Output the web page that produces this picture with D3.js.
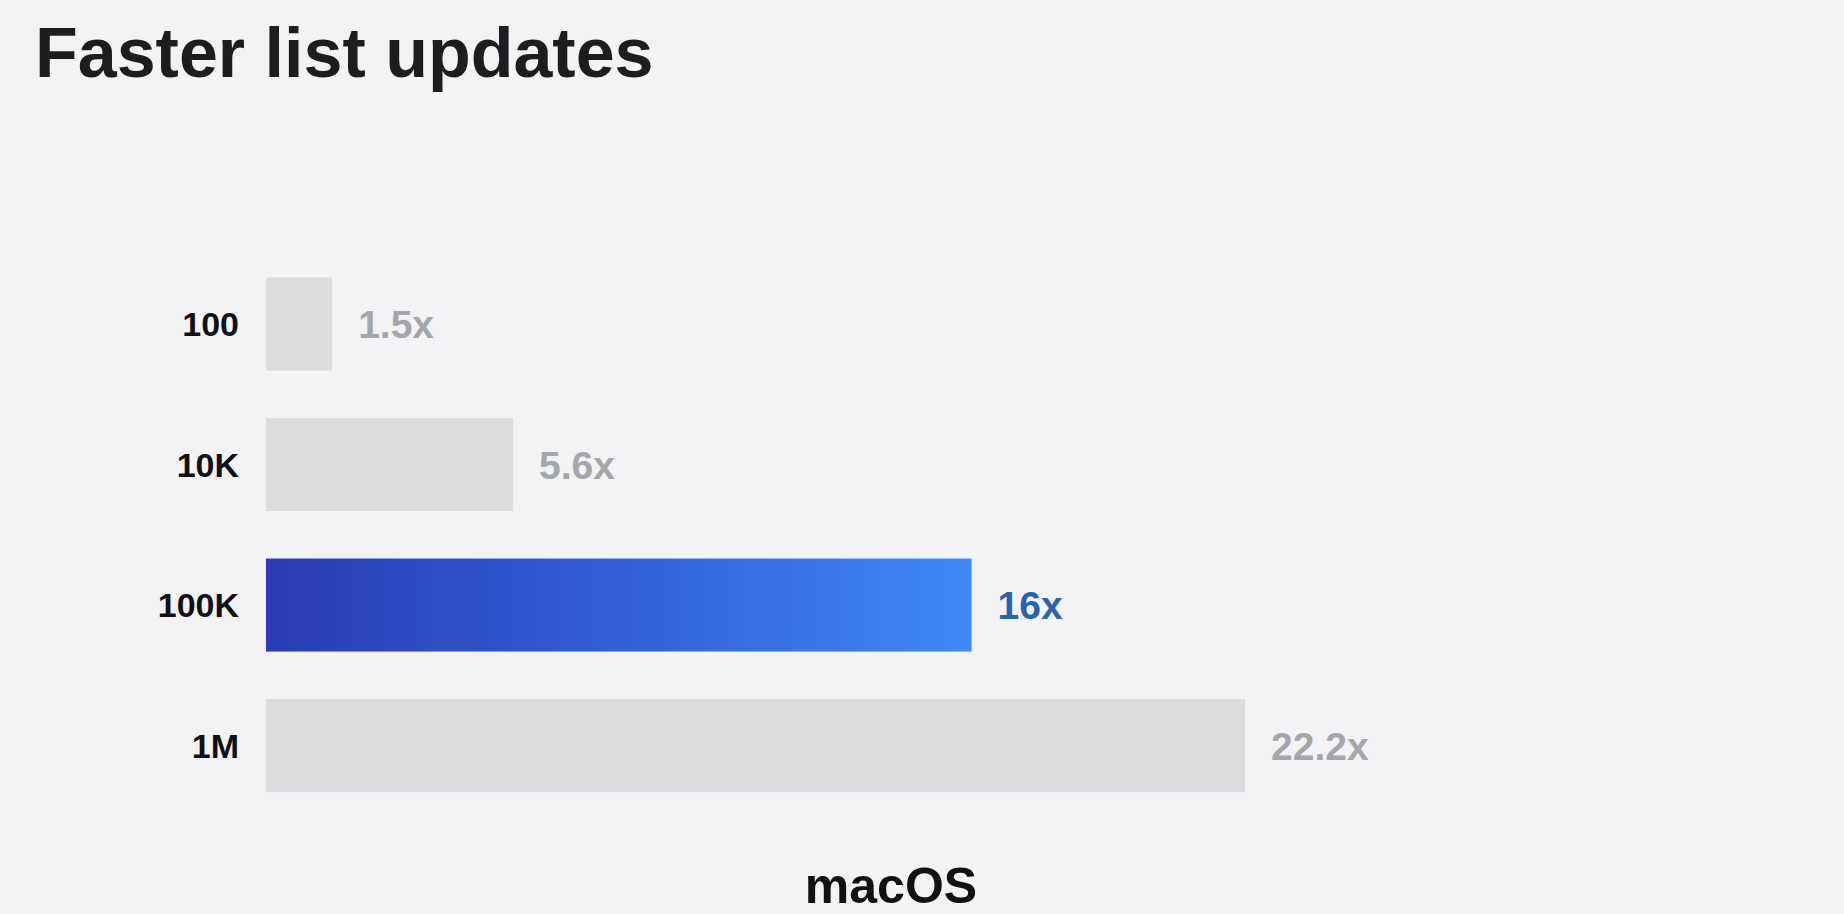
<!DOCTYPE html>
<html>
<head>
<meta charset="utf-8">
<script src="https://cdn.jsdelivr.net/npm/d3@7"></script>
<style>
html,body{margin:0;padding:0;background:#f3f3f6;overflow:hidden;}
svg{display:block;}
text{font-family:"Liberation Sans",Arial,sans-serif;font-weight:bold;}
</style>
</head>
<body>
<svg id="chart" width="1844" height="914"></svg>
<script>
const title = "Faster list updates";
const platform = "macOS";
const categories = ["100", "10K", "100K", "1M"];
const speedups = [1.5, 5.6, 16, 22.2];
const valueLabels = ["1.5x", "5.6x", "16x", "22.2x"];
const highlighted = ["100K"];

const svg = d3.select("#chart");
const W = 1844, H = 914;

svg.append("rect").attr("width", W).attr("height", H).attr("fill", "#f3f3f6");

const defs = svg.append("defs");
const grad = defs.append("linearGradient").attr("id", "blueGrad")
  .attr("x1", "0%").attr("x2", "100%").attr("y1", "0%").attr("y2", "0%");
grad.append("stop").attr("offset", "0%").attr("stop-color", "#2a3bb3");
grad.append("stop").attr("offset", "50%").attr("stop-color", "#325fd9");
grad.append("stop").attr("offset", "100%").attr("stop-color", "#3f89f6");

const x = d3.scaleLinear().domain([0, 25]).range([266, 266 + 25 * 44.1]);
const y = d3.scaleBand().domain(categories).range([253.8, 253.8 + 4 * 140.5])
  .paddingInner(0.338).paddingOuter(0.169);

svg.append("text").attr("x", 35).attr("y", 77)
  .attr("font-size", 70).attr("fill", "#1d1d1f").text(title);

const data = categories.map((c, i) => ({c, v: speedups[i], label: valueLabels[i], hi: highlighted.includes(c)}));

const g = svg.append("g");
g.selectAll("rect.bar").data(data).join("rect")
  .attr("class", "bar")
  .attr("x", x(0))
  .attr("y", d => y(d.c))
  .attr("width", d => x(d.v) - x(0))
  .attr("height", y.bandwidth())
  .attr("fill", d => d.hi ? "url(#blueGrad)" : "#dbdcde");

g.selectAll("text.cat").data(data).join("text")
  .attr("class", "cat")
  .attr("x", 239)
  .attr("y", d => y(d.c) + y.bandwidth() / 2)
  .attr("dy", "0.36em")
  .attr("text-anchor", "end")
  .attr("font-size", 34)
  .attr("fill", "#111112")
  .text(d => d.c);

g.selectAll("text.val").data(data).join("text")
  .attr("class", "val")
  .attr("x", d => x(d.v) + 26)
  .attr("y", d => y(d.c) + y.bandwidth() / 2)
  .attr("dy", "0.36em")
  .attr("font-size", 39)
  .attr("fill", d => d.hi ? "#2b62ad" : "#a4a6a9")
  .text(d => d.label);

svg.append("text").attr("x", 891).attr("y", 903)
  .attr("text-anchor", "middle")
  .attr("font-size", 50).attr("fill", "#111112").text(platform);
</script>
</body>
</html>
